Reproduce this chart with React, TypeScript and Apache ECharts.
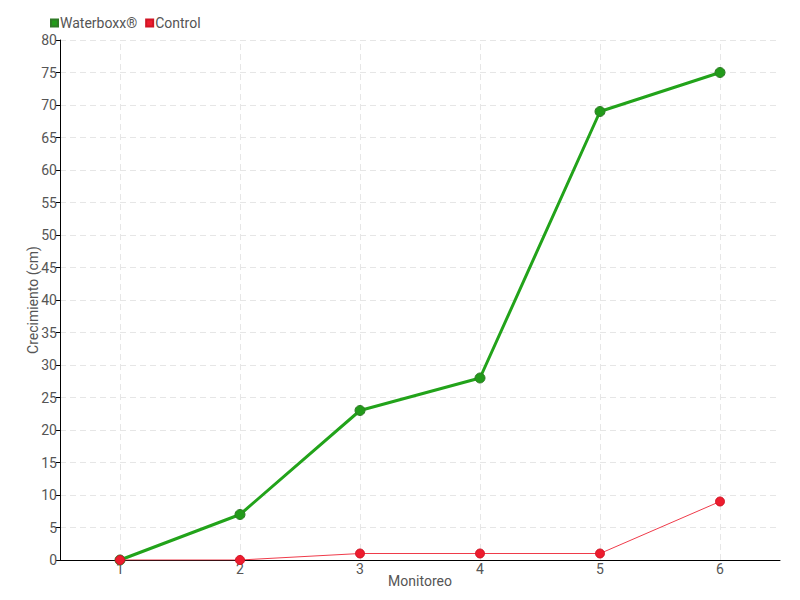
import React, { useEffect, useRef } from "react";
import * as echarts from "echarts";

const categories = ["1", "2", "3", "4", "5", "6"];
const waterboxx = [0, 7, 23, 28, 69, 75];
const control = [0, 0, 1, 1, 1, 9];
const seriesNames = ["Waterboxx®", "Control"];

const FONT = "Roboto, 'DejaVu Sans Condensed', sans-serif";
const TEXT = "#555555";

export default function App() {
  const ref = useRef<HTMLDivElement>(null);
  useEffect(() => {
    if (!ref.current) return;
    const chart = echarts.init(ref.current, undefined, { renderer: "svg" });
    chart.setOption({
      animation: false,
      textStyle: { fontFamily: FONT, color: TEXT },
      legend: {
        left: 45,
        top: 11,
        itemWidth: 7,
        itemHeight: 7,
        itemGap: 8,
        icon: "rect",
        textStyle: { fontFamily: FONT, fontSize: 14, color: TEXT, padding: [0, 0, 0, -3] },
        data: seriesNames,
      },
      grid: { left: 60, right: 20, top: 40, bottom: 40, containLabel: false },
      xAxis: {
        type: "category",
        data: categories,
        boundaryGap: true,
        name: "Monitoreo",
        nameLocation: "middle",
        nameGap: 14,
        nameMoveOverlap: false,
        nameTextStyle: { fontFamily: FONT, fontSize: 14, color: TEXT },
        axisLine: { lineStyle: { color: "#000", width: 1 } },
        axisTick: { alignWithLabel: true, length: 4, lineStyle: { color: "#000" } },
        axisLabel: { fontFamily: FONT, fontSize: 14, color: TEXT, margin: 2 },
        splitLine: { show: false },
      },
      yAxis: {
        type: "value",
        min: 0,
        max: 80,
        interval: 5,
        name: "Crecimiento (cm)",
        nameLocation: "middle",
        nameGap: 20,
        nameMoveOverlap: false,
        nameTextStyle: { fontFamily: FONT, fontSize: 14, color: TEXT },
        axisLine: { show: true, lineStyle: { color: "#000", width: 1 } },
        axisTick: { show: true, length: 4, lineStyle: { color: "#000" } },
        axisLabel: { fontFamily: FONT, fontSize: 14, color: TEXT, margin: 3 },
        splitLine: { show: true, lineStyle: { color: "#e6e6e6", type: [6, 4] } },
      },
      series: [
        {
          name: "grid",
          type: "line",
          data: [],
          z: 0,
          silent: true,
          legendHoverLink: false,
          markLine: {
            z: 0,
            silent: true,
            symbol: "none",
            label: { show: false },
            lineStyle: { color: "#e6e6e6", type: [6, 4], width: 1 },
            data: categories.map((c) => ({ xAxis: c })),
          },
        },
        {
          name: seriesNames[0],
          type: "line",
          data: waterboxx,
          z: 3,
          color: "#22a31a",
          lineStyle: { color: "#22a31a", width: 3 },
          symbol: "circle",
          symbolSize: 10,
          itemStyle: { color: "#229a1a", borderColor: "#2f7a26", borderWidth: 1 },
        },
        {
          name: seriesNames[1],
          type: "line",
          data: control,
          z: 4,
          color: "#ee1c2e",
          lineStyle: { color: "#ef3b4a", width: 1 },
          symbol: "circle",
          symbolSize: 9,
          itemStyle: { color: "#ee1c2e", borderColor: "#d01525", borderWidth: 1 },
        },
      ],
    });
    return () => chart.dispose();
  }, []);
  return <div ref={ref} style={{ width: 800, height: 600, position: "absolute", left: 0, top: 0 }} />;
}
